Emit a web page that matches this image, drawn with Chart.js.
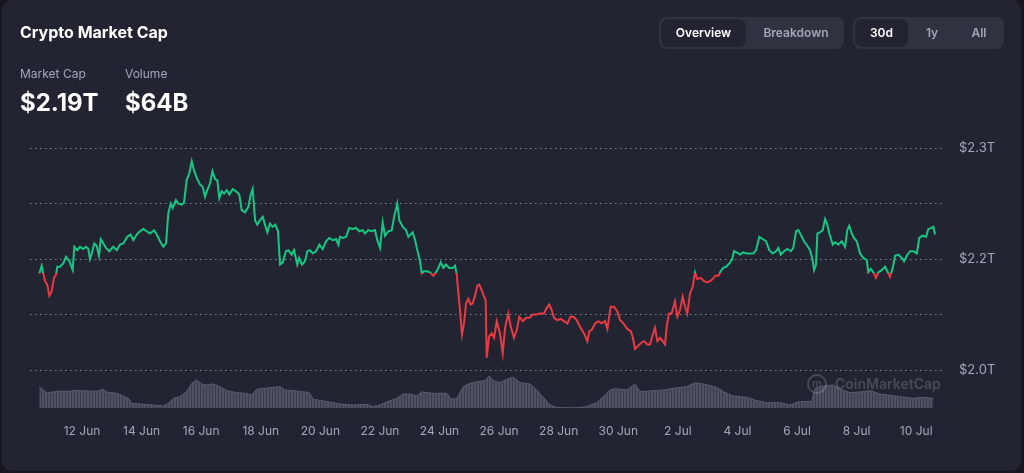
<!DOCTYPE html>
<html>
<head>
<meta charset="utf-8">
<script src="https://cdn.jsdelivr.net/npm/chart.js@4.4.1/dist/chart.umd.min.js"></script>
<style>
  html, body { margin: 0; padding: 0; width: 1024px; height: 473px; overflow: hidden; background: #17181f; font-family: Inter, "Noto Sans", sans-serif; }
  .card { position: absolute; left: 2px; top: 0; width: 1019px; height: 471px; background: #222531; border-radius: 10px; }
  #wrap { position: absolute; left: 0; top: 0; width: 1024px; height: 473px; }
  .title { position: absolute; left: 20px; top: 22px; font-size: 16px; font-weight: 700; color: #fff; }
  .lbl { position: absolute; top: 66px; font-size: 12px; color: #a1a7bb; }
  .big { position: absolute; top: 88px; font-size: 24px; font-weight: 700; color: #fff; }
  .grp { position: absolute; top: 17px; height: 32px; background: #30333f; border-radius: 8px; }
  .btn { position: absolute; top: 2px; height: 28px; line-height: 28px; text-align: center; font-size: 12px; font-weight: 600; color: #a1a7bb; border-radius: 7px; }
  .btn.on { background: #222531; color: #fff; }
  .wm { position: absolute; left: 807px; top: 374px; color: rgba(255,255,255,0.17); font-size: 14px; font-weight: 600; }
  .wm .logo { position: absolute; left: 0; top: 0; width: 16px; height: 16px; border: 2px solid rgba(255,255,255,0.17); border-radius: 50%; font-size: 11px; line-height: 15px; text-align: center; }
  .wm .txt { position: absolute; left: 28px; top: 1px; white-space: nowrap; }
</style>
</head>
<body>
<div class="card"></div>
<div id="wrap"><canvas id="capChart" width="1024" height="473"></canvas></div>
<div class="title">Crypto Market Cap</div>
<div class="lbl" style="left:20px">Market Cap</div>
<div class="lbl" style="left:125px">Volume</div>
<div class="big" style="left:20px">$2.19T</div>
<div class="big" style="left:125px">$64B</div>
<div class="grp" style="left:659px;width:185px">
  <div class="btn on" style="left:2px;width:85px">Overview</div>
  <div class="btn" style="left:92px;width:90px">Breakdown</div>
</div>
<div class="grp" style="left:853px;width:151px">
  <div class="btn on" style="left:2px;width:53px">30d</div>
  <div class="btn" style="left:58px;width:42px">1y</div>
  <div class="btn" style="left:103px;width:46px">All</div>
</div>
<div class="wm"><div class="logo">m</div><div class="txt">CoinMarketCap</div></div>
<script>
// hours since 10 Jun 00:00, market cap in $B
const capHours = [13.6,15.5,16.8,18.2,20.0,21.7,23.6,25.4,27.1,28.1,30.3,32.9,35.1,37.8,40.5,41.8,44.2,46.4,49.0,51.2,53.1,54.4,55.8,57.9,59.8,61.7,63.1,65.2,67.3,70.0,73.2,76.0,78.6,81.3,84.5,87.2,89.3,92.1,94.7,97.4,100.1,102.8,106.0,108.2,110.8,113.5,115.7,117.5,119.5,121.1,123.7,125.6,128.3,130.2,132.3,134.4,136.4,138.2,140.4,143.1,145.2,147.1,148.9,151.1,153.1,155.1,157.0,158.6,160.5,162.4,164.6,166.7,169.4,172.1,174.7,176.7,179.3,182.0,183.9,185.5,187.4,189.2,191.4,193.6,195.4,197.3,199.4,201.6,203.7,205.9,207.5,209.7,212.3,214.2,216.9,218.8,221.4,223.0,225.2,227.6,229.5,231.7,233.8,236.5,239.2,241.9,244.6,247.2,250.0,252.6,254.5,255.8,258.5,260.7,263.3,266.1,268.7,271.4,274.1,276.0,278.6,281.3,284.0,285.9,288.1,290.2,292.1,294.8,297.5,299.8,302.0,303.6,306.4,309.0,310.9,314.4,316.3,318.1,320.3,321.7,323.5,325.7,328.3,331.0,333.8,337.0,339.1,341.2,343.9,346.6,348.5,349.9,351.2,352.5,354.1,355.7,357.4,359.2,361.1,362.7,364.6,366.4,368.0,370.0,371.9,373.2,374.0,375.9,378.0,379.9,382.1,384.7,386.9,388.8,391.4,393.4,396.0,398.2,400.3,403.1,405.7,408.4,411.1,414.3,417.0,420.2,422.4,424.4,426.4,428.2,430.9,433.6,436.3,439.0,441.5,444.0,446.5,449.2,452.4,455.1,456.7,458.6,461.3,463.9,466.6,469.3,471.2,473.9,476.6,479.2,481.4,484.1,487.3,490.0,491.6,493.5,496.2,498.9,500.8,503.4,505.6,507.8,509.6,511.5,513.6,515.8,517.7,519.0,520.9,523.0,525.7,527.6,529.7,531.9,533.8,535.6,537.8,540.0,541.8,543.7,546.4,549.1,551.7,553.9,556.1,558.2,560.6,562.5,564.6,566.8,569.5,571.9,573.2,575.4,578.1,580.7,583.4,586.1,588.8,591.0,593.6,596.3,599.0,601.7,604.4,607.1,608.9,610.9,613.5,616.2,619.0,621.0,623.2,625.1,627.0,629.6,632.3,634.5,636.6,637.7,639.3,640.4,642.5,644.7,646.6,648.4,650.0,652.8,654.6,657.3,660.0,662.7,664.5,666.1,668.1,669.9,672.1,674.8,677.4,680.2,681.4,683.4,685.5,687.6,689.5,692.2,694.9,696.7,698.9,701.1,703.0,705.6,708.4,710.2,712.4,715.1,717.7,720.5,722.5,725.3,727.9,729.8,732.5,733.8,735.2];
const capValues = [2187,2194,2187,2180,2177,2167,2171,2183,2186,2193,2193,2196,2202,2198,2190,2211,2208,2211,2209,2211,2209,2200,2205,2214,2212,2203,2218,2214,2210,2207,2211,2208,2213,2214,2220,2222,2217,2222,2225,2227,2225,2223,2226,2222,2216,2211,2214,2241,2250,2246,2253,2250,2249,2251,2271,2277,2288,2280,2273,2267,2265,2256,2262,2268,2279,2272,2271,2255,2261,2259,2262,2258,2263,2261,2258,2244,2242,2247,2258,2263,2235,2231,2235,2238,2231,2224,2232,2229,2231,2225,2195,2197,2207,2208,2204,2208,2195,2201,2195,2198,2207,2208,2205,2207,2213,2209,2216,2219,2217,2218,2213,2220,2219,2220,2228,2227,2228,2225,2226,2223,2226,2225,2226,2217,2210,2233,2221,2225,2226,2240,2250,2235,2229,2226,2220,2224,2217,2208,2198,2187,2189,2189,2188,2185,2189,2197,2192,2195,2192,2192,2194,2186,2169,2154,2132,2142,2160,2164,2159,2160,2167,2176,2177,2172,2166,2163,2111,2130,2133,2129,2144,2133,2115,2138,2151,2139,2129,2136,2148,2144,2147,2147,2150,2150,2151,2151,2156,2159,2154,2147,2145,2146,2144,2142,2148,2148,2145,2139,2133,2126,2135,2136,2142,2144,2142,2144,2137,2157,2157,2153,2145,2142,2137,2135,2130,2119,2122,2125,2126,2123,2123,2132,2138,2126,2129,2126,2123,2139,2151,2151,2162,2148,2154,2166,2157,2151,2169,2175,2188,2182,2183,2180,2179,2180,2182,2185,2185,2189,2192,2193,2196,2200,2207,2206,2204,2206,2205,2205,2205,2208,2220,2218,2216,2208,2205,2207,2210,2204,2207,2209,2207,2210,2225,2226,2222,2216,2212,2208,2199,2190,2195,2223,2224,2226,2236,2231,2223,2213,2215,2213,2216,2211,2226,2230,2223,2219,2216,2205,2201,2199,2188,2191,2188,2183,2188,2190,2193,2189,2184,2192,2203,2204,2201,2198,2203,2207,2207,2205,2219,2221,2220,2227,2228,2229,2222];

// 24h volume in $B
const volHours = [13.6,16.8,19.6,24.9,30.3,38.3,42.4,51.8,59.8,64.7,67.9,75.9,81.3,85.3,88.0,94.7,105.4,113.5,117.5,121.6,126.9,132.3,136.4,140.4,144.4,148.5,153.8,159.2,164.6,172.6,180.7,184.7,188.7,196.8,207.5,211.5,221.0,231.0,234.3,242.4,250.4,255.8,266.6,277.3,282.7,288.1,293.5,301.5,306.8,312.2,317.6,321.7,331.0,341.8,345.8,349.9,355.2,359.2,366.0,372.6,376.1,379.3,384.7,390.1,395.5,400.8,408.9,414.3,419.6,425.0,430.4,435.7,441.1,446.5,454.6,462.6,467.9,473.4,477.4,486.8,493.5,497.5,508.2,516.3,524.3,535.1,541.8,548.5,559.3,564.6,572.7,583.5,591.5,599.6,610.3,618.4,625.1,635.8,638.5,645.2,653.3,658.6,666.7,674.8,682.8,690.8,698.9,706.9,717.7,725.7,733.8];
const volValues = [64,54,46,48,51,50,53,51,50,56,48,44,36,29,14,12,9,6,14,29,34,49,74,84,72,69,72,64,52,46,44,39,56,60,64,54,51,46,26,21,16,12,9,11,4,9,18,29,42,42,36,48,44,44,26,29,64,72,79,82,96,82,76,86,92,76,72,54,32,9,2,1,0.5,1,4,16,34,54,58,54,72,49,52,54,59,64,76,72,62,49,36,32,22,16,16,9,19,19,59,66,69,56,46,48,52,42,38,34,29,32,29];

const xTickHours = [48,96,144,192,240,288,336,384,432,480,528,576,624,672,720];
const xTickLabels = ["12 Jun","14 Jun","16 Jun","18 Jun","20 Jun","22 Jun","24 Jun","26 Jun","28 Jun","30 Jun","2 Jul","4 Jul","6 Jul","8 Jul","10 Jul"];
const yTickValues = [2100,2150,2200,2250,2300];
const yTickLabels = ["$2.0T","","$2.2T","","$2.3T"];

const GREEN = "#16c784";
const RED = "#ea3943";
const baseline = capValues[0];

Chart.defaults.font.family = "Inter, 'Noto Sans', sans-serif";

function lineColor(ctx) {
  const chart = ctx.chart;
  const area = chart.chartArea;
  if (!area) return GREEN;
  const yb = chart.scales.y.getPixelForValue(baseline);
  let stop = (yb - area.top) / (area.bottom - area.top);
  stop = Math.min(1, Math.max(0, stop));
  const g = chart.ctx.createLinearGradient(0, area.top, 0, area.bottom);
  g.addColorStop(0, GREEN);
  g.addColorStop(stop, GREEN);
  g.addColorStop(stop, RED);
  g.addColorStop(1, RED);
  return g;
}

function stripes() {
  const c = document.createElement("canvas");
  c.width = 3;
  c.height = 2;
  const x = c.getContext("2d");
  x.fillStyle = "#4d5160";
  x.fillRect(0, 0, 2, 2);
  x.fillStyle = "#393c49";
  x.fillRect(2, 0, 1, 2);
  return x.createPattern(c, "repeat");
}

const capPoints = capHours.map((h, i) => ({ x: h, y: capValues[i] }));
const volPoints = volHours.map((h, i) => ({ x: h, y: volValues[i] }));

new Chart(document.getElementById("capChart"), {
  type: "line",
  data: {
    datasets: [
      {
        label: "Market Cap",
        data: capPoints,
        yAxisID: "y",
        borderColor: lineColor,
        borderWidth: 2,
        pointRadius: 0,
        tension: 0,
        order: 0
      },
      {
        label: "Volume",
        data: volPoints,
        yAxisID: "y2",
        borderColor: "#595d6b",
        borderWidth: 1,
        backgroundColor: stripes(),
        fill: "origin",
        pointRadius: 0,
        tension: 0,
        order: 1
      }
    ]
  },
  options: {
    responsive: false,
    animation: false,
    events: [],
    layout: { padding: { left: 30, top: 148, right: 0, bottom: 0 } },
    plugins: { legend: { display: false }, tooltip: { enabled: false } },
    scales: {
      x: {
        type: "linear",
        min: 6.1,
        max: 742.4,
        afterBuildTicks: (axis) => { axis.ticks = xTickHours.map((v) => ({ value: v })); },
        afterFit: (axis) => { axis.height = 65; },
        grid: { display: false, drawTicks: false },
        border: { display: false },
        ticks: {
          color: "#a1a7bb",
          font: { size: 12 },
          padding: 16,
          maxRotation: 0,
          autoSkip: false,
          callback: (v, i) => xTickLabels[i]
        }
      },
      y: {
        position: "right",
        min: 2065.8,
        max: 2300,
        afterBuildTicks: (axis) => { axis.ticks = yTickValues.map((v) => ({ value: v })); },
        afterFit: (axis) => { axis.width = 80; },
        grid: { color: "rgba(190,195,210,0.6)", lineWidth: 1, drawTicks: false },
        border: { display: false, dash: [1.5, 3.5] },
        ticks: {
          color: "#a1a7bb",
          font: { size: 13 },
          padding: 15,
          autoSkip: false,
          callback: (v, i) => yTickLabels[i]
        }
      },
      y2: {
        display: false,
        min: 0,
        max: 780
      }
    }
  }
});
</script>
</body>
</html>
